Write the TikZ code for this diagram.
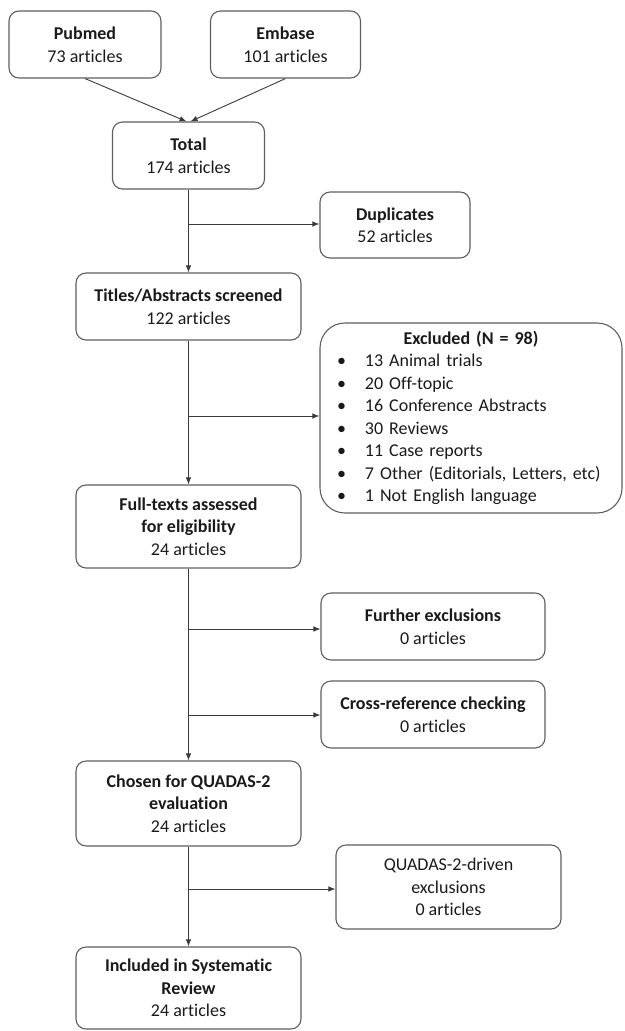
\documentclass[tikz,border=0pt]{standalone}
\usepackage{fontspec}
\setmainfont{Carlito}[Ligatures={NoCommon}]
\usetikzlibrary{arrows.meta}
\definecolor{boxgray}{HTML}{5E5E5E}
\definecolor{linegray}{HTML}{3A3A3A}
\definecolor{txt}{HTML}{1A1A1A}
\begin{document}
\begin{tikzpicture}[x=1pt,y=-1pt,
  box/.style={draw=boxgray, line width=1.1pt, rounded corners=10pt, align=center,
    inner sep=0pt, text=txt, font=\fontsize{18}{22.5}\selectfont},
  conn/.style={draw=linegray, line width=0.9pt, -{Latex[length=7pt,width=5.5pt]}}]
\useasboundingbox (0,0) rectangle (624,1031);
% nodes
\node[box, minimum width=152pt, minimum height=67pt] (pubmed) at (85,44.5) {\textbf{Pubmed}\\73 articles};
\node[box, minimum width=150pt, minimum height=67pt] (embase) at (285.5,44.5) {\textbf{Embase}\\101 articles};
\node[box, minimum width=152pt, minimum height=67pt] (total) at (188.5,155.5) {\textbf{Total}\\174 articles};
\node[box, minimum width=150pt, minimum height=66pt] (dup) at (395,225) {\textbf{Duplicates}\\52 articles};
\node[box, minimum width=225pt, minimum height=67pt] (titles) at (188.5,306.5) {\textbf{Titles/Abstracts screened}\\122 articles};
\node[box, rounded corners=25pt, minimum width=302pt, minimum height=190pt, text width=302pt, align=left] (excl) at (471,418)
 {\hfill\textbf{Excluded (N = 98)}\hfill\null\\
  \hspace*{17pt}\makebox[28pt][l]{\textbullet}13 Animal trials\\
  \hspace*{17pt}\makebox[28pt][l]{\textbullet}20 Off-topic\\
  \hspace*{17pt}\makebox[28pt][l]{\textbullet}16 Conference Abstracts\\
  \hspace*{17pt}\makebox[28pt][l]{\textbullet}30 Reviews\\
  \hspace*{17pt}\makebox[28pt][l]{\textbullet}11 Case reports\\
  \hspace*{17pt}\makebox[28pt][l]{\textbullet}7 Other (Editorials, Letters, etc)\\
  \hspace*{17pt}\makebox[28pt][l]{\textbullet}1 Not English language};
\node[box, minimum width=225pt, minimum height=83pt] (full) at (188.5,526.5) {\textbf{Full-texts assessed}\\\textbf{for eligibility}\\24 articles};
\node[box, minimum width=224pt, minimum height=67pt] (further) at (433,626.5) {\textbf{Further exclusions}\\0 articles};
\node[box, minimum width=224pt, minimum height=67pt] (cross) at (433,714.5) {\textbf{Cross-reference checking}\\0 articles};
\node[box, minimum width=225pt, minimum height=85pt] (chosen) at (188.5,803.5) {\textbf{Chosen for QUADAS-2}\\\textbf{evaluation}\\24 articles};
\node[box, minimum width=225pt, minimum height=84pt] (quadas) at (448.5,887) {QUADAS-2-driven\\exclusions\\0 articles};
\node[box, minimum width=225pt, minimum height=82pt] (incl) at (188.5,988) {\textbf{Included in Systematic}\\\textbf{Review}\\24 articles};
% branch points
\coordinate (b1) at (188.5,224);
\coordinate (b2) at (188.5,416);
\coordinate (b3) at (188.5,629);
\coordinate (b4) at (188.5,715);
\coordinate (b5) at (188.5,889);
% connectors
\draw[conn] (pubmed.south) -- ([xshift=-2pt]total.north);
\draw[conn] (embase.south) -- ([xshift=2pt]total.north);
\draw[conn] (total.south) -- (titles.north);
\draw[conn] (titles.south) -- (full.north);
\draw[conn] (full.south) -- (chosen.north);
\draw[conn] (chosen.south) -- (incl.north);
\draw[conn] (b1) -- (b1 -| dup.west);
\draw[conn] (b2) -- (b2 -| excl.west);
\draw[conn] (b3) -- (b3 -| further.west);
\draw[conn] (b4) -- (b4 -| cross.west);
\draw[conn] (b5) -- (b5 -| quadas.west);
\end{tikzpicture}
\end{document}
